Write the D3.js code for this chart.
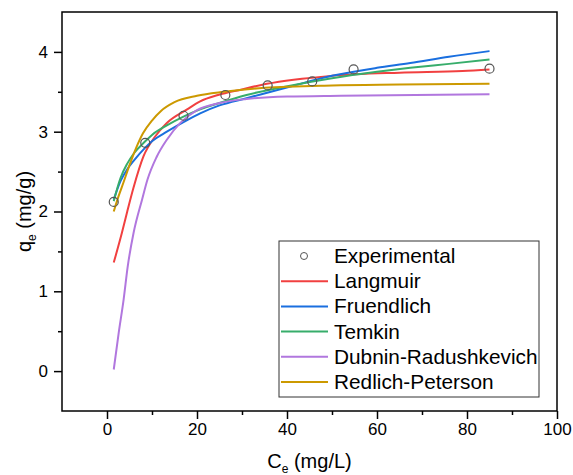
<!DOCTYPE html>
<html>
<head>
<meta charset="utf-8">
<script src="https://cdn.jsdelivr.net/npm/d3@7"></script>
<style>
  body { margin: 0; background: #fff; }
  text { font-family: "Liberation Sans", Arial, sans-serif; fill: #000; }
</style>
</head>
<body>
<svg id="chart"></svg>
<script>
// Values: [Ce (mg/L), qe (mg/g)]
const experimental = [
  [1.5, 2.12], [8.5, 2.86], [17, 3.2], [26.3, 3.46],
  [35.7, 3.58], [45.6, 3.63], [54.8, 3.78], [85, 3.79]
];
const langmuir = [
  [1.5, 1.36], [3.3, 1.73], [4.5, 2.0], [5.9, 2.3], [8.1, 2.69], [10.7, 2.94],
  [13.3, 3.11], [17.8, 3.28], [20.7, 3.38], [24.7, 3.46], [30, 3.53], [35.5, 3.6],
  [50, 3.7], [65, 3.74], [79, 3.76], [85, 3.78]
];
const freundlich = [
  [1.5, 2.15], [3, 2.38], [4.5, 2.53], [6, 2.64], [8.5, 2.8], [10, 2.88],
  [13.3, 3.0], [17, 3.12], [20.7, 3.23], [25, 3.33], [31, 3.42], [41, 3.57],
  [50, 3.7], [60, 3.8], [67.4, 3.86], [76, 3.94], [85, 4.01]
];
const temkin = [
  [1.5, 2.13], [3, 2.42], [4.5, 2.6], [6, 2.73], [8.5, 2.88], [10, 2.96],
  [13.3, 3.08], [17, 3.19], [20.7, 3.28], [25, 3.36], [31, 3.46], [41, 3.58],
  [50, 3.67], [60, 3.75], [67.4, 3.8], [76, 3.85], [85, 3.905]
];
const dubinin = [
  [1.5, 0.02], [2.6, 0.48], [3.7, 0.9], [4.6, 1.31], [5.9, 1.73], [7.8, 2.15],
  [9, 2.4], [11, 2.68], [13.3, 2.9], [16.3, 3.11], [20, 3.27], [25, 3.36],
  [31, 3.41], [40, 3.44], [52, 3.45], [85, 3.47]
];
const redlich = [
  [1.5, 2.0], [2.5, 2.18], [3.7, 2.37], [5, 2.58], [6.5, 2.8], [8, 2.98],
  [10, 3.14], [12, 3.26], [15, 3.37], [20, 3.45], [26, 3.5], [35, 3.55],
  [50, 3.58], [65, 3.59], [85, 3.6]
];

const seriesNames = ["Langmuir", "Fruendlich", "Temkin", "Dubnin-Radushkevich", "Redlich-Peterson"];
const seriesData = [langmuir, freundlich, temkin, dubinin, redlich];
const seriesColors = ["#f14040", "#1a6fdf", "#37ad6b", "#b177de", "#cc9900"];

const xMajor = [0, 20, 40, 60, 80, 100];
const xMinor = [10, 30, 50, 70, 90];
const yMajor = [0, 1, 2, 3, 4];
const yMinor = [0.5, 1.5, 2.5, 3.5];

const width = 573, height = 475;
const margin = { left: 62, right: 16, top: 12, bottom: 64 };

const svg = d3.select("#chart").attr("width", width).attr("height", height);

const x = d3.scaleLinear().domain([-10, 100]).range([margin.left, width - margin.right]);
const y = d3.scaleLinear().domain([-0.5, 4.5]).range([height - margin.bottom, margin.top]);

// Frame (top and right lines have no ticks)
svg.append("rect")
  .attr("x", x(-10)).attr("y", y(4.5))
  .attr("width", x(100) - x(-10)).attr("height", y(-0.5) - y(4.5))
  .attr("fill", "none").attr("stroke", "#000").attr("stroke-width", 1.5);

// Axes: major ticks with labels, minor ticks without
function styleAxis(g) {
  g.select(".domain").remove();
  g.selectAll("line").attr("stroke", "#000").attr("stroke-width", 1.5);
  g.selectAll("text").style("font-size", "17px")
    .style("font-family", '"Liberation Sans", Arial, sans-serif');
}

svg.append("g")
  .attr("transform", `translate(0,${y(-0.5)})`)
  .call(d3.axisBottom(x).tickValues(xMajor).tickSize(8).tickPadding(4).tickFormat(d3.format("d")))
  .call(styleAxis);
svg.append("g")
  .attr("transform", `translate(0,${y(-0.5)})`)
  .call(d3.axisBottom(x).tickValues(xMinor).tickSize(4).tickFormat(""))
  .call(styleAxis);

svg.append("g")
  .attr("transform", `translate(${x(-10)},0)`)
  .call(d3.axisLeft(y).tickValues(yMajor).tickSize(8).tickPadding(6).tickFormat(d3.format("d")))
  .call(styleAxis);
svg.append("g")
  .attr("transform", `translate(${x(-10)},0)`)
  .call(d3.axisLeft(y).tickValues(yMinor).tickSize(4).tickFormat(""))
  .call(styleAxis);

// Axis titles
const xTitle = svg.append("text")
  .attr("x", (x(-10) + x(100)) / 2).attr("y", 468)
  .attr("text-anchor", "middle").style("font-size", "20px");
xTitle.append("tspan").text("C");
xTitle.append("tspan").attr("dy", 5).style("font-size", "12px").text("e");
xTitle.append("tspan").attr("dy", -5).text(" (mg/L)");

const yTitle = svg.append("text")
  .attr("transform", `translate(31,${(y(-0.5) + y(4.5)) / 2}) rotate(-90)`)
  .attr("text-anchor", "middle").style("font-size", "20px");
yTitle.append("tspan").text("q");
yTitle.append("tspan").attr("dy", 5).style("font-size", "12px").text("e");
yTitle.append("tspan").attr("dy", -5).text(" (mg/g)");

// Fitted curves
const line = d3.line()
  .x((d) => x(d[0]))
  .y((d) => y(d[1]))
  .curve(d3.curveMonotoneX);

seriesData.forEach((data, i) => {
  svg.append("path")
    .datum(data)
    .attr("d", line)
    .attr("fill", "none")
    .attr("stroke", seriesColors[i])
    .attr("stroke-width", 2);
});

// Experimental points
svg.selectAll(".point")
  .data(experimental)
  .enter()
  .append("circle")
  .attr("class", "point")
  .attr("cx", (d) => x(d[0]))
  .attr("cy", (d) => y(d[1]))
  .attr("r", 4.5)
  .attr("fill", "none")
  .attr("stroke", "#555")
  .attr("stroke-width", 1.2);

// Legend
const legend = svg.append("g").attr("transform", "translate(279,241)");
legend.append("rect")
  .attr("width", 260).attr("height", 156)
  .attr("fill", "#fff").attr("stroke", "#333").attr("stroke-width", 1);

const rowY = (i) => 15 + i * 25.2;

legend.append("circle")
  .attr("cx", 25).attr("cy", rowY(0)).attr("r", 3.5)
  .attr("fill", "none").attr("stroke", "#555").attr("stroke-width", 1);
legend.append("text")
  .attr("x", 55).attr("y", rowY(0) + 7)
  .style("font-size", "20.8px").text("Experimental");

seriesNames.forEach((name, i) => {
  legend.append("line")
    .attr("x1", 2).attr("x2", 49)
    .attr("y1", rowY(i + 1)).attr("y2", rowY(i + 1))
    .attr("stroke", seriesColors[i]).attr("stroke-width", 2);
  legend.append("text")
    .attr("x", 55).attr("y", rowY(i + 1) + 7)
    .style("font-size", "20.8px").text(name);
});
</script>
</body>
</html>
